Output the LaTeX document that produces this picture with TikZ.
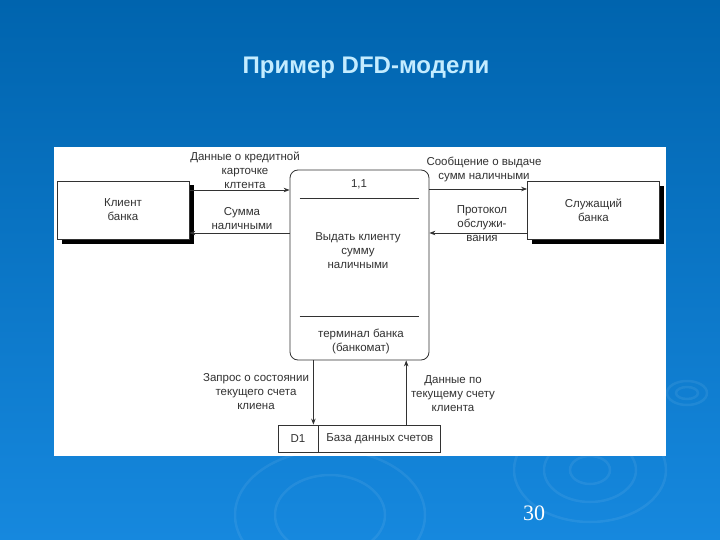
\documentclass[tikz,border=0pt]{standalone}
\usepackage{fontspec}
\setmainfont{Liberation Sans}
\newfontfamily\numfont{Liberation Serif}
\usetikzlibrary{arrows.meta,shadows}

\definecolor{slidetop}{RGB}{0,100,174}
\definecolor{slidebot}{RGB}{22,136,222}
\definecolor{titleblue}{RGB}{196,236,255}
\definecolor{ink}{RGB}{50,50,50}

\tikzset{
  txt/.style={font=\fontsize{11.5}{14}\selectfont, text=ink, align=center, inner sep=0pt},
  extbox/.style={draw=ink, line width=0.8pt, fill=white, minimum width=132pt, minimum height=58pt, txt,
    drop shadow={shadow xshift=4.5pt, shadow yshift=-4.5pt, opacity=1, fill=black}},
  cell/.style={draw=ink, line width=0.8pt, fill=white, minimum height=27pt, txt},
  flow/.style={draw=ink, line width=0.8pt, -{Stealth[length=6pt,width=4.5pt]}},
  ripple/.style={white, opacity=0.07, line width=2.5pt},
}

\begin{document}
\begin{tikzpicture}[x=1pt, y=-1pt]
        \useasboundingbox (0,0) rectangle (720,540);
        \shade[top color=slidetop, bottom color=slidebot] (0,0) rectangle (720,540);
        % background ripples
        \draw[ripple] (590,470) ellipse (20 and 14);
        \draw[ripple] (590,470) ellipse (46 and 32);
        \draw[ripple] (590,470) ellipse (76 and 52);
        \draw[ripple] (687,393) ellipse (20 and 12);
        \draw[ripple] (687,393) ellipse (11 and 6);
        \draw[ripple] (330,515) ellipse (95 and 65);
        \draw[ripple] (330,515) ellipse (55 and 40);
        \fill[white] (54,147) rectangle (666,456);

        \node[font=\bfseries\fontsize{24}{28}\selectfont, text=titleblue] (title) at (366,68) {Пример DFD-модели};
        \node[font=\numfont\fontsize{22}{26}\selectfont, text=white] (pgnum) at (534,513) {30};

        % external entities
        \node[extbox] (client) at (123,210) {Клиент\\банка};
        \node[extbox] (clerk) at (593.5,210.5) {Служащий\\банка};

        % process
        \node[draw=ink, line width=0.8pt, fill=white, rounded corners=8pt, minimum width=139pt, minimum height=190pt] (proc) at (359.5,265) {};
        \draw[ink, line width=0.8pt] ([xshift=10pt,yshift=-29pt]proc.north west) -- ([xshift=-10pt,yshift=-29pt]proc.north east);
        \draw[ink, line width=0.8pt] ([xshift=10pt,yshift=44pt]proc.south west) -- ([xshift=-10pt,yshift=44pt]proc.south east);
        \node[txt] (procid) at (359,184) {1,1};
        \node[txt] (procname) at (358,251) {Выдать клиенту\\сумму\\наличными};
        \node[txt] (procwho) at (361,341.5) {терминал банка\\(банкомат)};

        % data store
        \node[cell, minimum width=40pt] (dnum) at (298,438.5) {D1};
        \node[cell, minimum width=122pt, anchor=west] (dname) at (dnum.east) {База данных счетов};

        % flows
        \draw[flow] ([yshift=20pt]client.east) -- ([yshift=20pt]client.east -| proc.west);
        \draw[flow] ([yshift=-23pt]client.east -| proc.west) -- ([yshift=-23pt]client.east);
        \draw[flow] ([yshift=21.5pt]clerk.west -| proc.east) -- ([yshift=21.5pt]clerk.west);
        \draw[flow] ([yshift=-22.5pt]clerk.west) -- ([yshift=-22.5pt]clerk.west -| proc.east);
        \coordinate (qry) at ([xshift=-5pt]dnum.north east);
        \coordinate (ans) at ([xshift=-35pt]dname.north east);
        \draw[flow] (proc.south -| qry) -- (qry);
        \draw[flow] (ans) -- (proc.south -| ans);

        % flow labels
        \node[txt] (lblcard) at (245,170) {Данные о кредитной\\карточке\\клтента};
        \node[txt] (lblsum) at (242,219) {Сумма\\наличными};
        \node[txt] (lblmsg) at (484,169) {Сообщение о выдаче\\сумм наличными};
        \node[txt] (lblprot) at (482,224) {Протокол\\обслужи-\\вания};
        \node[txt] (lblqry) at (256,392) {Запрос о состоянии\\текущего счета\\клиена};
        \node[txt] (lbldata) at (453,393.5) {Данные по\\текущему счету\\клиента};
\end{tikzpicture}
\end{document}
